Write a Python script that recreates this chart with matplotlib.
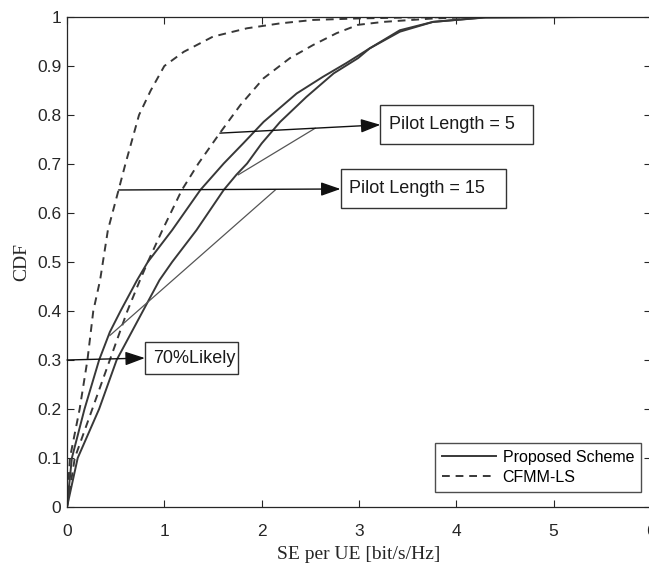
import matplotlib
matplotlib.use("Agg")
import matplotlib.pyplot as plt
from matplotlib.patches import Rectangle

# CDF curves
cfmm_a_x = [0, 0.03, 0.13, 0.21, 0.27, 0.34, 0.42, 0.53, 0.60, 0.74, 0.86, 1.0, 1.20, 1.50, 1.85, 2.19, 2.53, 2.98, 3.5, 4.2]
cfmm_a_y = [0, 0.10, 0.20, 0.30, 0.40, 0.463, 0.565, 0.647, 0.70, 0.80, 0.85, 0.90, 0.929, 0.960, 0.977, 0.987, 0.994, 0.997, 0.999, 1.0]

cfmm_b_x = [0, 0.08, 0.26, 0.44, 0.62, 0.75, 0.83, 0.98, 1.18, 1.35, 1.57, 1.78, 2.02, 2.29, 2.53, 2.77, 2.99, 3.25, 3.76, 4.2]
cfmm_b_y = [0, 0.10, 0.20, 0.30, 0.40, 0.463, 0.50, 0.565, 0.647, 0.701, 0.763, 0.82, 0.875, 0.916, 0.943, 0.967, 0.984, 0.99, 0.997, 1.0]

prop_a_x = [0, 0.05, 0.18, 0.33, 0.44, 0.55, 0.72, 0.83, 1.08, 1.37, 1.61, 1.81, 2.02, 2.36, 2.63, 2.87, 3.11, 3.42, 3.76, 4.28, 5.34]
prop_a_y = [0, 0.10, 0.20, 0.30, 0.357, 0.40, 0.463, 0.50, 0.565, 0.647, 0.701, 0.742, 0.786, 0.844, 0.878, 0.906, 0.936, 0.970, 0.990, 0.999, 1.0]

prop_b_x = [0, 0.11, 0.33, 0.51, 0.78, 0.95, 1.08, 1.33, 1.61, 1.74, 1.85, 2.0, 2.19, 2.46, 2.74, 2.99, 3.11, 3.42, 3.76, 4.3, 5.34]
prop_b_y = [0, 0.10, 0.20, 0.30, 0.40, 0.463, 0.50, 0.565, 0.647, 0.678, 0.701, 0.742, 0.786, 0.837, 0.885, 0.916, 0.936, 0.973, 0.990, 0.999, 1.0]

x_ticks = [0, 1, 2, 3, 4, 5, 6]
y_ticks = [0, 0.1, 0.2, 0.3, 0.4, 0.5, 0.6, 0.7, 0.8, 0.9, 1]
y_tick_labels = ["0", "0.1", "0.2", "0.3", "0.4", "0.5", "0.6", "0.7", "0.8", "0.9", "1"]

# annotation boxes: (label, x0, x1, y0, y1, text_x) and arrows (tail, head)
boxes = [
    ("Pilot Length = 5", 3.22, 4.79, 0.741, 0.820, 3.31),
    ("Pilot Length = 15", 2.81, 4.51, 0.610, 0.690, 2.90),
    ("70%Likely", 0.80, 1.76, 0.271, 0.337, 0.88),
]
arrows = [((1.57, 0.763), (3.22, 0.780)), ((0.53, 0.647), (2.81, 0.649)), ((0.0, 0.300), (0.80, 0.304))]
thin_lines = [((1.76, 2.55), (0.678, 0.773)), ((0.44, 2.14), (0.350, 0.647))]

plt.rcParams["font.family"] = ["Liberation Sans", "DejaVu Sans"]

fig = plt.figure(figsize=(6.49, 5.65), dpi=100)
ax = fig.add_axes([67 / 649, 58 / 565, 584 / 649, 490 / 565])

line_col = "#383838"
ax.plot(prop_a_x, prop_a_y, color=line_col, lw=1.4, label="Proposed Scheme")
ax.plot(prop_b_x, prop_b_y, color=line_col, lw=1.4)
ax.plot(cfmm_a_x, cfmm_a_y, color=line_col, lw=1.4, ls=(0, (4, 3)), label="CFMM-LS")
ax.plot(cfmm_b_x, cfmm_b_y, color=line_col, lw=1.4, ls=(0, (4, 3)))

for xs, ys in thin_lines:
    ax.plot(xs, ys, color="#555555", lw=0.9)

for tail, head in arrows:
    ax.annotate("", xy=head, xytext=tail,
                arrowprops=dict(arrowstyle="-|>,head_length=1.0,head_width=0.35",
                                color="#111111", lw=1.0, mutation_scale=12,
                                shrinkA=0, shrinkB=0))

for label, x0, x1, y0, y1, tx in boxes:
    ax.add_patch(Rectangle((x0, y0), x1 - x0, y1 - y0, facecolor="white",
                           edgecolor="#333333", lw=1.0, zorder=4))
    ax.text(tx, (y0 + y1) / 2, label, fontsize=13, ha="left", va="center",
            color="#1a1a1a", zorder=5)

ax.set_xlim(0, 6)
ax.set_ylim(0, 1)
ax.set_xticks(x_ticks)
ax.set_yticks(y_ticks)
ax.set_yticklabels(y_tick_labels)
ax.tick_params(direction="in", top=True, right=True, length=5, width=0.8,
               labelsize=12.5, colors="#262626")
ax.tick_params(axis="x", pad=12)
ax.tick_params(axis="y", pad=4)
for s in ax.spines.values():
    s.set_color("#262626")
    s.set_linewidth(0.9)

ax.set_xlabel("SE per UE [bit/s/Hz]", family="Liberation Serif", fontsize=14, color="#262626", labelpad=5)
ax.set_ylabel("CDF", family="Liberation Serif", fontsize=14, color="#262626", labelpad=5)

leg = ax.legend(loc="lower right", bbox_to_anchor=(0.9835, 0.0306), fontsize=11.5, frameon=True,
                fancybox=False, handlelength=3.4, handletextpad=0.4, borderpad=0.45,
                labelspacing=0.3, borderaxespad=0.0)
leg.get_frame().set_edgecolor("#222222")
leg.get_frame().set_linewidth(1.0)

fig.savefig("out.png", dpi=100)
